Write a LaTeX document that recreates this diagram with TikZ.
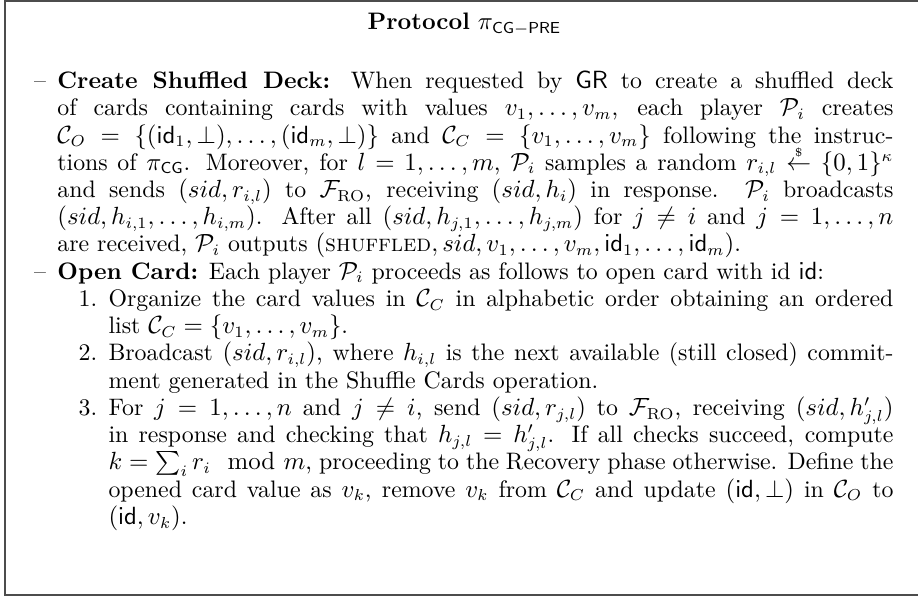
\documentclass[tikz,border=0pt]{standalone}
\usepackage{amsmath,amssymb}
\newcommand{\bodysize}{\fontsize{10.5}{12}\selectfont}
\tikzset{
  frameline/.style={line width=0.9pt, draw=black!70},
  titletext/.style={anchor=base, inner sep=0pt, font=\bodysize},
  bodytext/.style={anchor=north west, inner sep=0pt, text width=393.4pt, align=justify, font=\bodysize},
}
\newenvironment{outerlist}{\begin{list}{\textendash}{%
  \setlength{\leftmargin}{25.1pt}\setlength{\labelwidth}{20.1pt}%
  \setlength{\labelsep}{5pt}\setlength{\itemsep}{0pt}\setlength{\parsep}{0pt}%
  \setlength{\topsep}{0pt}\setlength{\partopsep}{0pt}\setlength{\itemindent}{0pt}%
  \setlength{\rightmargin}{0pt}\setlength{\listparindent}{0pt}}}{\end{list}}
\newenvironment{innerlist}{\begin{list}{\arabic{enumi}.}{\usecounter{enumi}%
  \setlength{\leftmargin}{22.5pt}\setlength{\labelwidth}{17.5pt}%
  \setlength{\labelsep}{5pt}\setlength{\itemsep}{0pt}\setlength{\parsep}{0pt}%
  \setlength{\topsep}{0pt}\setlength{\partopsep}{0pt}\setlength{\itemindent}{0pt}%
  \setlength{\rightmargin}{0pt}\setlength{\listparindent}{0pt}}}{\end{list}}
\newcommand{\samplearrow}{\mathrel{\smash{\overset{\scriptscriptstyle\$}{\leftarrow}}}}
\begin{document}
\begin{tikzpicture}
\useasboundingbox (0pt,-264.3pt) rectangle (404.4pt,0pt);
\clip (0pt,-264.3pt) rectangle (404.4pt,0pt);
\draw[frameline] (420pt,-0.3pt) -- (2.2pt,-0.3pt) -- (2.2pt,-262.1pt) -- (420pt,-262.1pt);
\node[titletext] (title) at (204.6pt,-13.2pt) {\textbf{Protocol} $\pi_{\mathsf{CG-PRE}}$};
\node[bodytext] (body) at (0pt,-26.8pt) {\bodysize\parindent=0pt\lineskiplimit=-10pt\emergencystretch=2em%
\begin{outerlist}
\item \strut\textbf{Create Shuffled Deck:} When requested by $\mathsf{GR}$ to create a shuffled deck\linebreak
of cards containing cards with values $v_1,\ldots,v_m$, each player $\mathcal{P}_i$ creates\linebreak
$\mathcal{C}_O=\{(\mathsf{id}_1,\bot),\ldots,(\mathsf{id}_m,\bot)\}$ and $\mathcal{C}_C=\{v_1,\ldots,v_m\}$ following the instruc-\linebreak
tions of $\pi_{\mathsf{CG}}$. Moreover, for $l=1,\ldots,m$, $\mathcal{P}_i$ samples a random $r_{i,l}\samplearrow\{0,1\}^\kappa$\linebreak
and sends $(sid,r_{i,l})$ to $\mathcal{F}_{\mathrm{RO}}$, receiving $(sid,h_i)$ in response. $\mathcal{P}_i$ broadcasts\linebreak
$(sid,h_{i,1},\ldots,h_{i,m})$. After all $(sid,h_{j,1},\ldots,h_{j,m})$ for $j\neq i$ and $j=1,\ldots,n$\linebreak
are received, $\mathcal{P}_i$ outputs $(\textsc{shuffled},sid,v_1,\ldots,v_m,\mathsf{id}_1,\ldots,\mathsf{id}_m)$.
\item \textbf{Open Card:} Each player $\mathcal{P}_i$ proceeds as follows to open card with id $\mathsf{id}$:
\begin{innerlist}
\item Organize the card values in $\mathcal{C}_C$ in alphabetic order obtaining an ordered\linebreak
list $\mathcal{C}_C=\{v_1,\ldots,v_m\}$.
\item Broadcast $(sid,r_{i,l})$, where $h_{i,l}$ is the next available (still closed) commit-\linebreak
ment generated in the Shuffle Cards operation.
\item For $j=1,\ldots,n$ and $j\neq i$, send $(sid,r_{j,l})$ to $\mathcal{F}_{\mathrm{RO}}$, receiving $(sid,h'_{j,l})$\linebreak
in response and checking that $h_{j,l}=h'_{j,l}$. If all checks succeed, compute\linebreak
$k=\sum_i r_i \mod m$, proceeding to the Recovery phase otherwise. Define the\linebreak
opened card value as $v_k$, remove $v_k$ from $\mathcal{C}_C$ and update $(\mathsf{id},\bot)$ in $\mathcal{C}_O$ to\linebreak
$(\mathsf{id},v_k)$.
\end{innerlist}
\end{outerlist}};
\end{tikzpicture}
\end{document}
